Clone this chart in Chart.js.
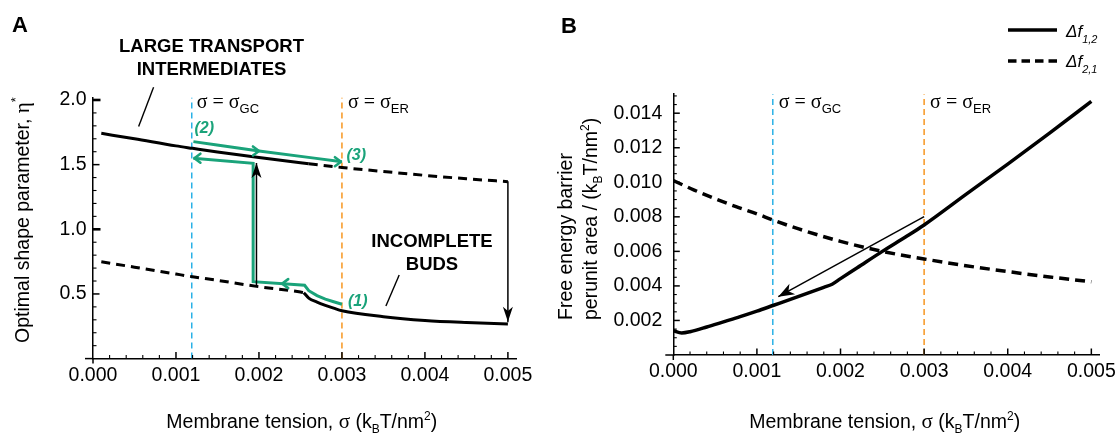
<!DOCTYPE html>
<html><head><meta charset="utf-8">
<script src="https://cdn.jsdelivr.net/npm/chart.js@4.4.1/dist/chart.umd.min.js"></script>
<style>
html,body{margin:0;padding:0;background:#fff;overflow:hidden;}
#wrap{position:relative;width:1118px;height:434px;overflow:hidden;background:#fff;}
.pan{position:absolute;top:0;height:434px;}
#pa{left:0;width:540px;} #pb{left:540px;width:578px;}
canvas{display:block;}
</style></head><body>
<div id="wrap">
<div class="pan" id="pa"><canvas id="ca" width="540" height="434"></canvas></div>
<div class="pan" id="pb"><canvas id="cb" width="578" height="434"></canvas></div>
</div>
<script>
// ---------------- data ----------------
const sigmaGC = 0.00119;
const sigmaER = 0.0030;

const xTickValues = [0, 0.001, 0.002, 0.003, 0.004, 0.005];
const xTickLabels = ['0.000', '0.001', '0.002', '0.003', '0.004', '0.005'];
const yTickValuesA = [0.5, 1.0, 1.5, 2.0];
const yTickLabelsA = ['0.5', '1.0', '1.5', '2.0'];
const yTickValuesB = [0.002, 0.004, 0.006, 0.008, 0.010, 0.012, 0.014];
const yTickLabelsB = ['0.002', '0.004', '0.006', '0.008', '0.010', '0.012', '0.014'];

// Panel A: optimal shape parameter
const upperSolidX = [0.0001, 0.0005, 0.001, 0.0012, 0.0015, 0.002, 0.0025, 0.0026];
const upperSolidY = [1.742, 1.700, 1.645, 1.626, 1.598, 1.555, 1.515, 1.507];
const upperDashX = [0.0026, 0.003, 0.0035, 0.004, 0.0045, 0.005];
const upperDashY = [1.507, 1.478, 1.447, 1.417, 1.391, 1.368];
const lowerDashX = [0.0001, 0.0005, 0.001, 0.0012, 0.0015, 0.002, 0.0025, 0.00254];
const lowerDashY = [0.749, 0.707, 0.654, 0.633, 0.605, 0.556, 0.515, 0.510];
const lowerSolidX = [0.00254, 0.0026, 0.0027, 0.0028, 0.0029, 0.003, 0.0035, 0.004, 0.0045, 0.005];
const lowerSolidY = [0.510, 0.468, 0.437, 0.412, 0.390, 0.370, 0.324, 0.295, 0.279, 0.268];
const greenPathX = [0.003, 0.0029, 0.0028, 0.0027, 0.0026, 0.00255, 0.00193, 0.00193, 0.00121];
const greenPathY = [0.420, 0.440, 0.460, 0.487, 0.525, 0.567, 0.595, 1.510, 1.550];
const greenPath2X = [0.00121, 0.002, 0.003];
const greenPath2Y = [1.678, 1.606, 1.523];
const jumpUpX = [0.00197, 0.00197];
const jumpUpY = [0.556, 1.512];
const jumpDownX = [0.005, 0.005];
const jumpDownY = [1.368, 0.285];

// Panel B: free energy barriers
const sigmaB12 = [0, 0.0001, 0.0002, 0.0004, 0.0006, 0.0008, 0.001, 0.0012, 0.0014, 0.0016, 0.0018, 0.0019, 0.002, 0.0022, 0.0025, 0.0028, 0.003, 0.0035, 0.004, 0.0045, 0.005];
const df12 = [0.00141, 0.00128, 0.00135, 0.00162, 0.00192, 0.00222, 0.00254, 0.00288, 0.00322, 0.00357, 0.00392, 0.0041, 0.00442, 0.00505, 0.0060, 0.0069, 0.00753, 0.0093, 0.01105, 0.01285, 0.01468];
const sigmaB21 = [0, 0.00025, 0.0005, 0.00075, 0.001, 0.0012, 0.0015, 0.002, 0.0025, 0.003, 0.0035, 0.004, 0.0045, 0.005];
const df21 = [0.0101, 0.00955, 0.00905, 0.00859, 0.00817, 0.0078, 0.0073, 0.00658, 0.006, 0.00556, 0.00517, 0.00483, 0.00452, 0.00424];
const arrowBX = [0.003, 0.001256];
const arrowBY = [0.00801, 0.003376];

// ---------------- style ----------------
const INK = '#000';
const GREEN = '#1aa37a';
const BLUE = '#29b1e6';
const ORANGE = '#f7961f';
const SANS = "'Liberation Sans', Arial, Helvetica, sans-serif";
const SERIF = "'Liberation Serif', 'Times New Roman', serif";
const FS = 19.5;
const OB = 20; // panel B canvas starts 20px left of 560

function pts(xs, ys) { return xs.map((x, i) => ({x: x, y: ys[i]})); }
function curve(xs, ys, o) {
  return Object.assign({data: pts(xs, ys), borderColor: INK, borderWidth: 3, pointRadius: 0,
    fill: false, cubicInterpolationMode: 'monotone', borderCapStyle: 'butt', borderJoinStyle: 'round', order: 2}, o || {});
}
function rich(ctx, x, y, segs, align) {
  let w = 0;
  segs.forEach(s => { ctx.font = s.f; s.w = ctx.measureText(s.t).width; w += s.w; });
  let cx = align === 'center' ? x - w / 2 : (align === 'right' ? x - w : x);
  ctx.textAlign = 'left'; ctx.textBaseline = 'alphabetic';
  segs.forEach(s => { ctx.font = s.f; ctx.fillText(s.t, cx, y + (s.dy || 0)); cx += s.w; });
}
function seg(ctx, x1, y1, x2, y2) { ctx.beginPath(); ctx.moveTo(x1, y1); ctx.lineTo(x2, y2); ctx.stroke(); }
function solidHead(ctx, tx, ty, fx, fy, len, hw) {
  const a = Math.atan2(ty - fy, tx - fx), c = Math.cos(a), s = Math.sin(a);
  const bx = tx - c * len, by = ty - s * len;
  const nx = tx - c * len * 0.72, ny = ty - s * len * 0.72;
  ctx.beginPath(); ctx.moveTo(tx, ty);
  ctx.lineTo(bx - s * hw, by + c * hw); ctx.lineTo(nx, ny); ctx.lineTo(bx + s * hw, by - c * hw);
  ctx.closePath(); ctx.fill();
}
function openHead(ctx, tx, ty, dir, len, hw) {
  ctx.beginPath();
  ctx.moveTo(tx - dir * len, ty - hw); ctx.lineTo(tx, ty); ctx.lineTo(tx - dir * len, ty + hw);
  ctx.stroke();
}
function xTitle() {
  const f = FS + 'px ' + SANS, sub = '12px ' + SANS;
  return [{t: 'Membrane tension, ', f: f}, {t: 'σ', f: '21px ' + SERIF}, {t: ' (k', f: f},
    {t: 'B', f: sub, dy: 5}, {t: 'T/nm', f: f}, {t: '2', f: sub, dy: -8}, {t: ')', f: f}];
}
function sigmaLabel(sub) {
  return [{t: 'σ = σ', f: '20px ' + SERIF}, {t: sub, f: '13px ' + SANS, dy: 5}];
}
function axisTicks(ctx, X, Y, xmax, xstep, ymax, ystep, yMajorEvery, yThickEvery) {
  ctx.strokeStyle = INK;
  const ox = X(0), oy = Y(0);
  ctx.lineWidth = 1.5;
  seg(ctx, ox - 8, oy, ox, oy);
  seg(ctx, ox, oy, ox, oy + 5);
  const nx = Math.round(xmax / xstep);
  for (let k = 1; k <= nx; k++) {
    const major = k % 5 === 0;
    ctx.lineWidth = major ? 1.5 : 1.1;
    const p = X(k * xstep);
    seg(ctx, p, oy, p, oy - (major ? 6.5 : 3.5));
  }
  const ny = Math.round(ymax / ystep);
  for (let k = 1; k <= ny; k++) {
    const major = k % yMajorEvery === 0;
    const thick = yThickEvery && k % yThickEvery === 0;
    ctx.lineWidth = thick ? 2.6 : (major ? 1.5 : 1.1);
    const p = Y(k * ystep);
    seg(ctx, ox, p, ox + (thick ? 7.5 : (major ? 6.5 : 3.5)), p);
  }
}
function scaleX(labels, values, plotBottom) {
  return {
    type: 'linear', min: 0, max: 0.0051,
    afterBuildTicks: s => { s.ticks = values.map(v => ({value: v})); },
    afterFit: s => { s.height = 434 - plotBottom; s.paddingLeft = 0; s.paddingRight = 0; },
    grid: {display: false, drawTicks: false},
    border: {display: true, color: INK, width: 1.5},
    ticks: {autoSkip: false, maxRotation: 0, minRotation: 0, padding: 5, color: INK,
      font: {family: SANS, size: FS}, includeBounds: false,
      callback: v => { const i = values.findIndex(u => Math.abs(u - v) < 1e-12); return i < 0 ? '' : labels[i]; }}
  };
}
function scaleY(min, max, labels, values, width, pad) {
  return {
    type: 'linear', min: min, max: max,
    afterBuildTicks: s => { s.ticks = values.map(v => ({value: v})); },
    afterFit: s => { s.width = width; s.paddingTop = 0; s.paddingBottom = 0; },
    grid: {display: false, drawTicks: false},
    border: {display: true, color: INK, width: 1.5},
    ticks: {autoSkip: false, padding: pad, color: INK, font: {family: SANS, size: FS}, includeBounds: false,
      callback: v => { const i = values.findIndex(u => Math.abs(u - v) < 1e-12); return i < 0 ? '' : labels[i]; }}
  };
}

// ---------------- Panel A ----------------
const annotA = {
  id: 'annotA',
  afterDatasetsDraw(chart) {
    const ctx = chart.ctx, X = v => chart.scales.x.getPixelForValue(v), Y = v => chart.scales.y.getPixelForValue(v);
    ctx.save();
    ctx.fillStyle = INK;
    solidHead(ctx, X(jumpUpX[1]), Y(jumpUpY[1]), X(jumpUpX[0]), Y(jumpUpY[0]), 15, 5);
    solidHead(ctx, X(jumpDownX[1]), Y(jumpDownY[1]), X(jumpDownX[0]), Y(jumpDownY[0]), 15, 5);
    ctx.strokeStyle = GREEN; ctx.lineWidth = 2.6; ctx.lineCap = 'round'; ctx.lineJoin = 'round';
    openHead(ctx, X(greenPathX[8]) + 1, Y(greenPathY[8]), -1, 6, 4.5);
    openHead(ctx, X(0.00228), Y(0.58), -1, 6, 4.5);
    openHead(ctx, X(greenPath2X[1]), Y(greenPath2Y[1]), 1, 6, 4.5);
    openHead(ctx, X(greenPath2X[2]) - 1, Y(greenPath2Y[2]), 1, 6, 4.5);
    ctx.restore();
  },
  afterDraw(chart) {
    const ctx = chart.ctx, X = v => chart.scales.x.getPixelForValue(v), Y = v => chart.scales.y.getPixelForValue(v);
    ctx.save();
    axisTicks(ctx, X, Y, 0.005, 0.0002, 2.0, 0.1, 5, 10);
    ctx.fillStyle = INK; ctx.strokeStyle = INK;
    rich(ctx, 12, 32, [{t: 'A', f: 'bold 22px ' + SANS}], 'left');
    const bf = 'bold 18.5px ' + SANS;
    rich(ctx, 211.5, 51.7, [{t: 'LARGE TRANSPORT', f: bf}], 'center');
    rich(ctx, 211.5, 74.7, [{t: 'INTERMEDIATES', f: bf}], 'center');
    rich(ctx, 432, 247.3, [{t: 'INCOMPLETE', f: bf}], 'center');
    rich(ctx, 432, 270, [{t: 'BUDS', f: bf}], 'center');
    ctx.lineWidth = 1.4;
    seg(ctx, X(0.00073), Y(2.098), X(0.00055), Y(1.794));
    seg(ctx, X(0.00369), Y(0.646), X(0.00353), Y(0.407));
    rich(ctx, X(sigmaGC) + 5, 107.5, sigmaLabel('GC'), 'left');
    rich(ctx, X(sigmaER) + 6, 107.5, sigmaLabel('ER'), 'left');
    ctx.fillStyle = GREEN;
    const gf = 'italic bold 16px ' + SANS;
    rich(ctx, 348, 306, [{t: '(1)', f: gf}], 'left');
    rich(ctx, 194.5, 133, [{t: '(2)', f: gf}], 'left');
    rich(ctx, 346.5, 160, [{t: '(3)', f: gf}], 'left');
    ctx.fillStyle = INK;
    rich(ctx, 301.8, 428, xTitle(), 'center');
    ctx.translate(29, 220); ctx.rotate(-Math.PI / 2);
    rich(ctx, 0, 0, [{t: 'Optimal shape parameter, ', f: FS + 'px ' + SANS}, {t: 'η', f: '21px ' + SERIF}, {t: '*', f: '13px ' + SANS, dy: -9}], 'center');
    ctx.restore();
  }
};

new Chart(document.getElementById('ca'), {
  type: 'line',
  data: {datasets: [
    curve([sigmaGC, sigmaGC], [0, 2.02], {borderColor: BLUE, borderWidth: 1.5, borderDash: [6, 4], order: 10, cubicInterpolationMode: 'default'}),
    curve([sigmaER, sigmaER], [0, 2.02], {borderColor: ORANGE, borderWidth: 1.5, borderDash: [6, 4], order: 10, cubicInterpolationMode: 'default'}),
    curve(greenPathX, greenPathY, {borderColor: GREEN, borderWidth: 3, cubicInterpolationMode: 'default', tension: 0, borderJoinStyle: 'miter', order: 5}),
    curve(greenPath2X, greenPath2Y, {borderColor: GREEN, borderWidth: 3, order: 5}),
    curve(upperSolidX, upperSolidY),
    curve(upperDashX, upperDashY, {borderDash: [9, 6]}),
    curve(lowerDashX, lowerDashY, {borderDash: [9, 6]}),
    curve(lowerSolidX, lowerSolidY),
    curve(jumpUpX, jumpUpY, {borderWidth: 1.5, order: 1, cubicInterpolationMode: 'default'}),
    curve(jumpDownX, jumpDownY, {borderWidth: 1.5, order: 1, cubicInterpolationMode: 'default'})
  ]},
  options: {
    responsive: false, animation: false, devicePixelRatio: 1,
    layout: {padding: {top: 97.4, right: 540 - 516.2, left: 0, bottom: 0}},
    scales: {x: scaleX(xTickLabels, xTickValues, 358.6), y: scaleY(0, 2.02, yTickLabelsA, yTickValuesA, 93, 6.5)},
    plugins: {legend: {display: false}, tooltip: {enabled: false}}
  },
  plugins: [annotA]
});

// ---------------- Panel B ----------------
const annotB = {
  id: 'annotB',
  afterDatasetsDraw(chart) {
    const ctx = chart.ctx, X = v => chart.scales.x.getPixelForValue(v), Y = v => chart.scales.y.getPixelForValue(v);
    ctx.save(); ctx.fillStyle = INK;
    solidHead(ctx, X(arrowBX[1]), Y(arrowBY[1]), X(arrowBX[0]), Y(arrowBY[0]), 16, 6);
    ctx.restore();
  },
  afterDraw(chart) {
    const ctx = chart.ctx, X = v => chart.scales.x.getPixelForValue(v), Y = v => chart.scales.y.getPixelForValue(v);
    ctx.save();
    axisTicks(ctx, X, Y, 0.005, 0.0002, 0.015, 0.0005, 4, 0);
    ctx.fillStyle = INK; ctx.strokeStyle = INK;
    rich(ctx, OB + 1, 33, [{t: 'B', f: 'bold 22px ' + SANS}], 'left');
    rich(ctx, X(sigmaGC) + 6, 107.5, sigmaLabel('GC'), 'left');
    rich(ctx, X(sigmaER) + 6, 107.5, sigmaLabel('ER'), 'left');
    // legend
    ctx.lineWidth = 3.5; ctx.lineCap = 'butt';
    seg(ctx, OB + 448, 30, OB + 497, 30);
    ctx.setLineDash([8.5, 5]); seg(ctx, OB + 448, 61, OB + 497, 61); ctx.setLineDash([]);
    const lf = 'italic 17px ' + SANS, ls = 'italic 11px ' + SANS;
    rich(ctx, OB + 506, 36.5, [{t: 'Δf', f: lf}, {t: '1,2', f: ls, dy: 6}], 'left');
    rich(ctx, OB + 506, 67, [{t: 'Δf', f: lf}, {t: '2,1', f: ls, dy: 6}], 'left');
    // axis titles
    rich(ctx, OB + 324.7, 428, xTitle(), 'center');
    const f = FS + 'px ' + SANS, sub = '12px ' + SANS;
    ctx.save(); ctx.translate(OB + 11.5, 320); ctx.rotate(-Math.PI / 2);
    rich(ctx, 0, 0, [{t: 'Free energy barrier', f: f}], 'left');
    ctx.restore();
    ctx.save(); ctx.translate(OB + 36.5, 320); ctx.rotate(-Math.PI / 2);
    rich(ctx, 0, 0, [{t: 'perunit area / (k', f: f}, {t: 'B', f: sub, dy: 5}, {t: 'T/nm', f: f}, {t: '2', f: sub, dy: -8}, {t: ')', f: f}], 'left');
    ctx.restore();
    ctx.restore();
  }
};

new Chart(document.getElementById('cb'), {
  type: 'line',
  data: {datasets: [
    curve([sigmaGC, sigmaGC], [0, 0.0151], {borderColor: BLUE, borderWidth: 1.5, borderDash: [6, 4], order: 10, cubicInterpolationMode: 'default'}),
    curve([sigmaER, sigmaER], [0, 0.0151], {borderColor: ORANGE, borderWidth: 1.5, borderDash: [6, 4], order: 10, cubicInterpolationMode: 'default'}),
    curve(sigmaB12, df12, {borderWidth: 3.5}),
    curve(sigmaB21, df21, {borderWidth: 3.5, borderDash: [10, 6]}),
    curve(arrowBX, arrowBY, {borderWidth: 1.5, order: 1, cubicInterpolationMode: 'default'})
  ]},
  options: {
    responsive: false, animation: false, devicePixelRatio: 1,
    layout: {padding: {top: 94.2, right: 578 - (OB + 539.7), left: 0, bottom: 0}},
    scales: {x: scaleX(xTickLabels, xTickValues, 355), y: scaleY(0, 0.0151, yTickLabelsB, yTickValuesB, OB + 113.3, 11)},
    plugins: {legend: {display: false}, tooltip: {enabled: false}}
  },
  plugins: [annotB]
});
</script>
</body></html>
